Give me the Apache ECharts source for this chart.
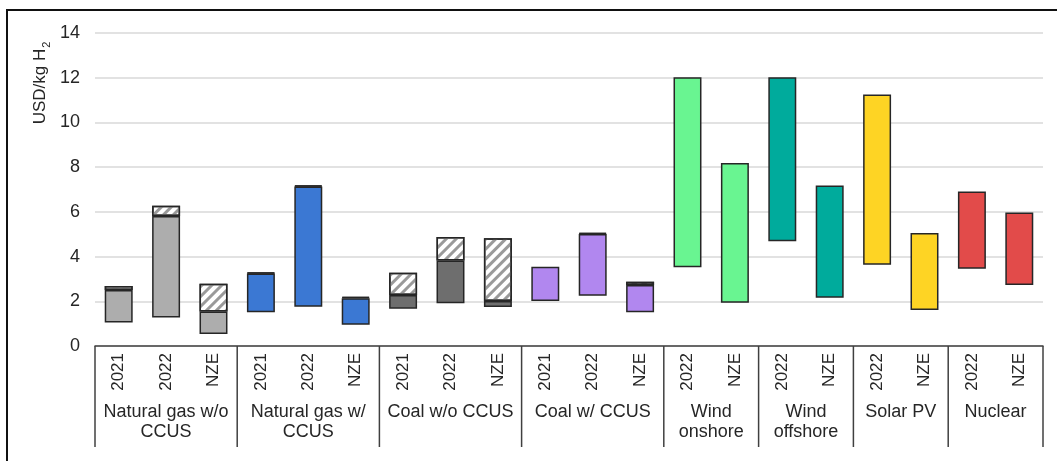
<!DOCTYPE html>
<html>
<head>
<meta charset="utf-8">
<script src="https://cdn.jsdelivr.net/npm/echarts@6/dist/echarts.min.js"></script>
<style>
html,body{margin:0;padding:0;background:#fff;}
#chart{width:1057px;height:461px;}
</style>
</head>
<body>
<div id="chart"></div>
<script>
// ---- data ----
var categories = ['2021','2022','NZE','2021','2022','NZE','2021','2022','NZE','2021','2022','NZE','2022','NZE','2022','NZE','2022','NZE','2022','NZE'];
var groupNames = ['Natural gas w/o\nCCUS','Natural gas w/\nCCUS','Coal w/o CCUS','Coal w/ CCUS','Wind\nonshore','Wind\noffshore','Solar PV','Nuclear'];
var groupSizes = [3,3,3,3,2,2,2,2];
// bottom of each bar
var lowValues  = [1.05,1.27,0.54, 1.51,1.76,0.95, 1.67,1.91,1.75, 2.01,2.25,1.51, 3.52,1.94, 4.69,2.16, 3.63,1.61, 3.45,2.73];
// top of the solid part
var midValues  = [2.51,5.82,1.54, 3.24,7.13,2.14, 2.28,3.82,2.01, 3.55,5.01,2.73, 12.02,8.18, 12.02,7.18, 11.25,5.05, 6.91,5.97];
// top of the hatched part (total)
var highValues = [2.68,6.27,2.78, 3.28,7.18,2.19, 3.28,4.87,4.82, 3.55,5.06,2.87, 12.02,8.18, 12.02,7.18, 11.25,5.05, 6.91,5.97];
var yTicks = {min:0, max:14, interval:2};

// ---- styles ----
var groupColors = ['#adadad','#3b78d3','#6e6e6e','#b187ef','#69f591','#00ab9c','#fed424','#e24b4a'];
var textColor = '#262626';
var edge = '#262626';

var catGroup = [];
var groupStarts = [];
(function(){
  var s = 0;
  groupSizes.forEach(function(n, g){
    groupStarts.push(s);
    for (var i = 0; i < n; i++) catGroup.push(g);
    s += n;
  });
})();

var baseData = lowValues.slice();
var solidData = midValues.map(function(v, i){
  return {value: +(v - lowValues[i]).toFixed(3), itemStyle:{color: groupColors[catGroup[i]]}};
});
var hatchData = highValues.map(function(v, i){
  var d = +(v - midValues[i]).toFixed(3);
  return d > 0 ? d : '-';
});
var groupData = groupStarts.map(function(s, g){ return [s, groupSizes[g]]; });

var chart = echarts.init(document.getElementById('chart'));
chart.setOption({
  animation: false,
  backgroundColor: '#fff',
  grid: {left: 95, right: 14, top: 33, bottom: 115, containLabel: false},
  xAxis: {
    type: 'category',
    data: categories,
    axisLine: {show: true, lineStyle: {color: '#404040', width: 1.5}},
    axisTick: {show: false},
    axisLabel: {rotate: 90, interval: 0, fontSize: 17, color: textColor, margin: 7, fontFamily: 'Liberation Sans, Arial, sans-serif'},
    splitLine: {show: false}
  },
  yAxis: {
    type: 'value',
    min: yTicks.min, max: yTicks.max, interval: yTicks.interval,
    axisLine: {show: false},
    axisTick: {show: false},
    axisLabel: {fontSize: 18, color: textColor, margin: 15, fontFamily: 'Liberation Sans, Arial, sans-serif'},
    splitLine: {show: true, lineStyle: {color: '#d9d9d9', width: 1.5}}
  },
  graphic: [
    {type: 'rect', z: -1, shape: {x: 7, y: 10, width: 1100, height: 500}, style: {fill: 'none', stroke: '#111', lineWidth: 2}},
    {type: 'text', x: 39, y: 83, rotation: Math.PI/2,
      style: {
        text: '{a|USD/kg H}{b|2}',
        align: 'center', verticalAlign: 'middle',
        fill: textColor,
        rich: {
          a: {fontSize: 17, fontFamily: 'Liberation Sans, Arial, sans-serif', fill: textColor, lineHeight: 20, verticalAlign: 'bottom'},
          b: {fontSize: 11, fontFamily: 'Liberation Sans, Arial, sans-serif', fill: textColor, lineHeight: 20, verticalAlign: 'bottom', padding: [0,0,-3,1]}
        }
      }
    }
  ],
  series: [
    {
      name: 'base', type: 'bar', stack: 'a', barWidth: '59%', silent: true,
      itemStyle: {color: 'rgba(0,0,0,0)', borderWidth: 0},
      data: baseData
    },
    {
      name: 'solid', type: 'bar', stack: 'a', barWidth: '59%',
      itemStyle: {borderColor: edge, borderWidth: 1.5},
      data: solidData
    },
    {
      name: 'hatch', type: 'bar', stack: 'a', barWidth: '59%',
      itemStyle: {
        color: '#ffffff', borderColor: edge, borderWidth: 1.5,
        decal: {symbol: 'rect', symbolSize: 1, dashArrayX: [[1, 0]], dashArrayY: [2.5, 4], rotation: -Math.PI/4, color: '#9a9a9a'}
      },
      data: hatchData
    },
    {
      name: 'groups', type: 'custom', silent: true, clip: false, z: 5,
      encode: {x: 0, y: 1},
      data: groupData,
      renderItem: function(params, api){
        var start = api.value(0), count = api.value(1);
        var c = api.coord([start, 0]);
        var bw = api.size([1, 0])[0];
        var x0 = c[0] - bw/2, x1 = x0 + bw*count, y0 = c[1];
        var children = [
          {type: 'line', shape: {x1: x0, y1: y0, x2: x0, y2: y0 + 101}, style: {stroke: '#404040', lineWidth: 1.5}},
          {type: 'text', x: (x0 + x1)/2, y: y0 + 56,
            style: {text: groupNames[params.dataIndex], align: 'center', verticalAlign: 'top', fontSize: 18, lineHeight: 20,
              fill: textColor, fontFamily: 'Liberation Sans, Arial, sans-serif'}}
        ];
        if (params.dataIndex === groupNames.length - 1) {
          children.push({type: 'line', shape: {x1: x1, y1: y0, x2: x1, y2: y0 + 101}, style: {stroke: '#404040', lineWidth: 1.5}});
        }
        return {type: 'group', children: children};
      }
    }
  ]
});
</script>
</body>
</html>
